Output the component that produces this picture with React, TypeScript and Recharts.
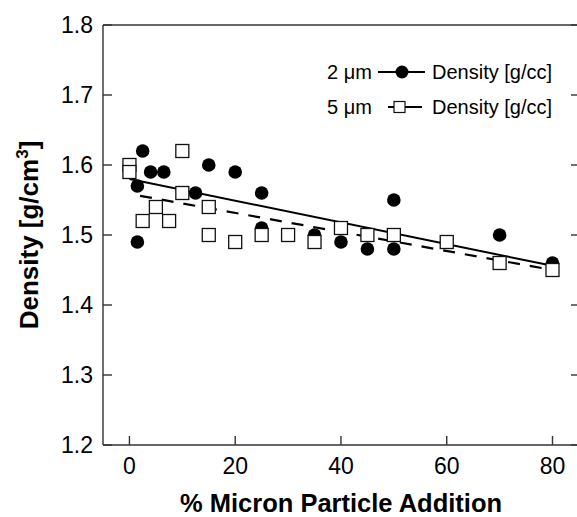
import React from "react";
import { Legend, Scatter, ScatterChart, XAxis, YAxis } from "recharts";

const xTicks = [0, 20, 40, 60, 80];
const yTicks = [1.2, 1.3, 1.4, 1.5, 1.6, 1.7, 1.8];

const addition2um = [1.5, 1.5, 2.5, 4, 6.5, 12.5, 15, 20, 25, 25, 35, 40, 45, 50, 50, 70, 80];
const density2um = [1.57, 1.49, 1.62, 1.59, 1.59, 1.56, 1.6, 1.59, 1.56, 1.51, 1.5, 1.49, 1.48, 1.55, 1.48, 1.5, 1.46];

const addition5um = [0, 0, 2.5, 5, 7.5, 10, 10, 15, 15, 20, 25, 30, 35, 40, 45, 50, 60, 70, 80];
const density5um = [1.6, 1.59, 1.52, 1.54, 1.52, 1.62, 1.56, 1.54, 1.5, 1.49, 1.5, 1.5, 1.49, 1.51, 1.5, 1.5, 1.49, 1.46, 1.45];

// linear fits
const fitX2um = [0, 80];
const fitY2um = [1.58, 1.456];
const fitX5um = [2, 80];
const fitY5um = [1.556, 1.45];

const sizeLabels = ["2 μm", "5 μm"];
const seriesName = "Density [g/cc]";

const pts = (xs: number[], ys: number[]) => xs.map((x, i) => ({ x, y: ys[i] }));

const FONT = "'Liberation Sans', Arial, Helvetica, sans-serif";
const AXIS = "#333";
const X_DOMAIN = [-5, 85.2];

function Dot(props: any) {
  return <circle cx={props.cx} cy={props.cy} r={6.8} fill="#000" />;
}

function Box(props: any) {
  return (
    <rect
      x={props.cx - 6.5}
      y={props.cy - 6.5}
      width={13}
      height={13}
      fill="#fff"
      stroke="#111"
      strokeWidth={1.3}
    />
  );
}

const NoMark = () => <g />;

function XTitle() {
  return (
    <text x={341} y={512} textAnchor="middle" fontFamily={FONT} fontSize={25.5} fontWeight="bold" fill="#000">
      % Micron Particle Addition
    </text>
  );
}

function YTitle() {
  return (
    <text
      x={38}
      y={235}
      transform="rotate(-90 38 235)"
      textAnchor="middle"
      fontFamily={FONT}
      fontSize={26}
      fontWeight="bold"
      fill="#000"
    >
      Density [g/cm
      <tspan dy={-10} fontSize={17}>3</tspan>
      <tspan dy={10}>]</tspan>
    </text>
  );
}

function LegendBox() {
  return (
    <svg width={577} height={130} style={{ display: "block" }}>
      <g fontFamily={FONT} fontSize={20} fill="#000">
        <text x={327} y={79}>{sizeLabels[0]}</text>
        <line x1={378} x2={425} y1={72} y2={72} stroke="#000" strokeWidth={2} />
        <circle cx={402} cy={72} r={6.5} fill="#000" />
        <text x={432} y={79}>{seriesName}</text>

        <text x={327} y={114}>{sizeLabels[1]}</text>
        <line x1={388} x2={422} y1={107} y2={107} stroke="#000" strokeWidth={2} />
        <rect x={394} y={101.5} width={11} height={11} fill="#fff" stroke="#111" strokeWidth={1.2} />
        <text x={432} y={114}>{seriesName}</text>
      </g>
    </svg>
  );
}

export default function App() {
  const tickFont = { fontSize: 23, fill: "#000", fontFamily: FONT };
  const line = { stroke: AXIS, strokeWidth: 1.4 };
  return (
    <div style={{ position: "absolute", left: 0, top: 0, width: 577, height: 517, overflow: "hidden", background: "#fff" }}>
      <ScatterChart width={600} height={517} margin={{ top: 24, right: 19, bottom: 0, left: 0 }}>
        <XAxis
          xAxisId="b"
          type="number"
          dataKey="x"
          domain={X_DOMAIN}
          ticks={xTicks}
          interval={0}
          allowDataOverflow
          height={72}
          tickSize={-9}
          tickMargin={22}
          tick={tickFont}
          axisLine={line}
          tickLine={line}
          label={<XTitle />}
        />
        <XAxis
          xAxisId="t"
          orientation="top"
          type="number"
          domain={X_DOMAIN}
          ticks={xTicks}
          interval={0}
          allowDataOverflow
          height={1}
          tickSize={-9}
          tickFormatter={() => ""}
          axisLine={line}
          tickLine={line}
        />
        <YAxis
          yAxisId="l"
          type="number"
          dataKey="y"
          domain={[1.2, 1.8]}
          ticks={yTicks}
          interval={0}
          allowDataOverflow
          width={103}
          tickSize={-9}
          tickMargin={19}
          tickFormatter={(v: number) => v.toFixed(1)}
          tick={tickFont}
          axisLine={line}
          tickLine={line}
          label={<YTitle />}
        />
        <YAxis
          yAxisId="r"
          orientation="right"
          type="number"
          domain={[1.2, 1.8]}
          ticks={yTicks}
          interval={0}
          allowDataOverflow
          width={1}
          tickSize={-9}
          tickFormatter={() => ""}
          axisLine={false}
          tickLine={line}
        />
        <Legend
          layout="horizontal"
          verticalAlign="middle"
          align="center"
          wrapperStyle={{ left: 0, top: 0, width: 577, height: 130, pointerEvents: "none" }}
          content={() => <LegendBox />}
        />
        <Scatter
          xAxisId="b"
          yAxisId="l"
          data={pts(fitX2um, fitY2um)}
          line={{ stroke: "#000", strokeWidth: 2 }}
          shape={NoMark}
          legendType="none"
          isAnimationActive={false}
        />
        <Scatter
          xAxisId="b"
          yAxisId="l"
          data={pts(fitX5um, fitY5um)}
          line={{ stroke: "#000", strokeWidth: 2.2, strokeDasharray: "12 10" }}
          shape={NoMark}
          legendType="none"
          isAnimationActive={false}
        />
        <Scatter
          name={sizeLabels[0]}
          xAxisId="b"
          yAxisId="l"
          data={pts(addition2um, density2um)}
          shape={Dot}
          isAnimationActive={false}
        />
        <Scatter
          name={sizeLabels[1]}
          xAxisId="b"
          yAxisId="l"
          data={pts(addition5um, density5um)}
          shape={Box}
          isAnimationActive={false}
        />
      </ScatterChart>
    </div>
  );
}
